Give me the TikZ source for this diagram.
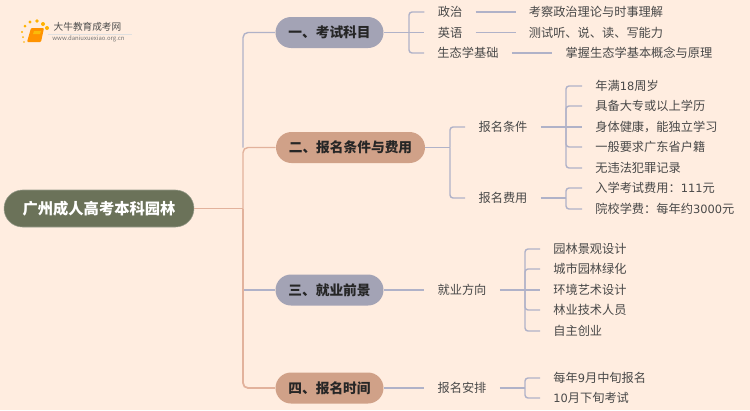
\documentclass[tikz,border=0pt]{standalone}
\usepackage{fontspec}
\setmainfont{Noto Sans CJK SC}
\newfontfamily\digitfont{DejaVu Sans}
\newcommand{\dg}[1]{{\digitfont\fontsize{6.5pt}{9pt}\selectfont #1}}
\definecolor{bgcol}{HTML}{FFEDE0}
\definecolor{rootcol}{HTML}{6B7259}
\definecolor{greycol}{HTML}{A3A3B5}
\definecolor{tancol}{HTML}{D0A188}
\definecolor{greyln}{HTML}{B0B2C8}
\definecolor{tanln}{HTML}{E2B29C}
\definecolor{txtcol}{HTML}{484848}
\tikzset{
  rootnode/.style={fill=rootcol, draw=rootcol!70!white, line width=0.3pt, text=white, rounded corners=0.37cm, minimum width=3.8cm, minimum height=0.74cm, font=\fontsize{8.7pt}{10pt}\selectfont\bfseries, inner sep=0pt},
  branch/.style={rounded corners=0.31cm, minimum height=0.62cm, font=\fontsize{7.8pt}{10pt}\selectfont\bfseries, text=black!85, inner sep=0pt},
  item/.style={text=txtcol, font=\fontsize{6.95pt}{9pt}\selectfont, inner ysep=0pt, inner xsep=0.26cm},
  greyline/.style={draw=greyln, line width=0.8pt, rounded corners=0.06cm},
  tanline/.style={draw=tanln, line width=0.8pt, rounded corners=0.1cm},
}
\begin{document}
\begin{tikzpicture}[x=0.02cm, y=-0.02cm]
  \fill[bgcol] (0,0) rectangle (750,410);
  \useasboundingbox (0,0) rectangle (750,410);
  % logo
  \foreach \a/\b/\r in {24/42/0.8, 23/37/1, 22/32/1.2, 25/26/1.5, 30/22/1.7, 37/21/1.9, 43/24/2, 47/28/2}
    \fill[orange!60!yellow] (\a,\b) circle (\r);
  \fill[orange!85!yellow, rounded corners=0.02cm] (31,28) -- (44,28) -- (41,42) -- (27,42) -- cycle;
  \fill[yellow!50!orange] (34,31) -- (41,31) -- (40,34) -- (33,34) -- cycle;
  \fill[black!12] (48,33.8) rectangle (132,34.2);
  \node[font=\fontsize{5.5pt}{7pt}\selectfont, text=black!70, inner sep=0pt] (logotitle) at (87.5,27) {大牛教育成考网};
  \node[font=\fontsize{3.4pt}{4pt}\selectfont, text=black!55, inner sep=0pt] (logourl) at (88.5,38.5) {www.daniuxuexiao.org.cn};
  % root and branches
  \node[rootnode] (root) at (99,208.5) {广州成人高考本科园林};
  \node[branch, fill=greycol, minimum width=2.16cm] (kemu) at (329.5,32.5) {一、考试科目};
  \node[branch, fill=tancol, minimum width=2.98cm] (tiaojian) at (350.5,147.5) {二、报名条件与费用};
  \node[branch, fill=greycol, minimum width=2.16cm] (qianjing) at (329.5,290) {三、就业前景};
  \node[branch, fill=tancol, minimum width=2.16cm] (shijian) at (329.5,388) {四、报名时间};
  % first level
  \node[item] (zz) at (450,12) {政治};
  \node[item] (yy) at (450,32.5) {英语};
  \node[item] (st) at (468,53) {生态学基础};
  \node[item] (zzd) at (596,12) {考察政治理论与时事理解};
  \node[item] (yyd) at (596,32.5) {测试听、说、读、写能力};
  \node[item] (std) at (639,53) {掌握生态学基本概念与原理};
  \node[item] (bm) at (503,127) {报名条件};
  \node[item] (fy) at (503,198) {报名费用};
  \node[item, anchor=west] (b1) at (582,86) {年满\dg{18}周岁};
  \node[item, anchor=west] (b2) at (582,106) {具备大专或以上学历};
  \node[item, anchor=west] (b3) at (582,127) {身体健康，能独立学习};
  \node[item, anchor=west] (b4) at (582,147) {一般要求广东省户籍};
  \node[item, anchor=west] (b5) at (582,168) {无违法犯罪记录};
  \node[item, anchor=west] (f1) at (582,188) {入学考试费用：\dg{111}元};
  \node[item, anchor=west] (f2) at (582,209) {院校学费：每年约\dg{3000}元};
  \node[item] (jy) at (462,290) {就业方向};
  \node[item, anchor=west] (j1) at (540,249) {园林景观设计};
  \node[item, anchor=west] (j2) at (540,269) {城市园林绿化};
  \node[item, anchor=west] (j3) at (540,290) {环境艺术设计};
  \node[item, anchor=west] (j4) at (540,310) {林业技术人员};
  \node[item, anchor=west] (j5) at (540,331) {自主创业};
  \node[item] (ap) at (462,388) {报名安排};
  \node[item, anchor=west] (a1) at (540,378) {每年\dg{9}月中旬报名};
  \node[item, anchor=west] (a2) at (540,398) {\dg{10}月下旬考试};
  % bars
  \coordinate (trunk) at (243,208.5);
  \coordinate (split) at (243,147.5);
  \coordinate (barkemu) at (409,32.5);
  \coordinate (bartj) at (450,147.5);
  \coordinate (barfy) at (566,198);
  \coordinate (barbm) at (566,127);
  \coordinate (barjy) at (525,290);
  \coordinate (barap) at (525,388);
  % trunk
  \draw[greyline, rounded corners=0.1cm] (split) |- (kemu.west);
  \draw[greyline] (qianjing.west) -- (qianjing.west -| trunk);
  \draw[tanline] (trunk) -- (split) -- (tiaojian.west);
  \draw[tanline, line width=1pt] (trunk) |- (shijian.west);
  \draw[tanline, line width=1pt] (root.east) -- (trunk);
  % branch one
  \draw[greyline] (kemu.east) -- (yy.west);
  \foreach \t in {zz,st}
    \draw[greyline] (barkemu) |- (\t.west);
  \foreach \a/\b in {zz/zzd,yy/yyd,st/std}
    \draw[greyline] (\a.east) -- (\b.west);
  % branch two
  \draw[greyline] (tiaojian.east) -- (bartj);
  \foreach \t in {bm,fy}
    \draw[greyline] (bartj) |- (\t.west);
  \draw[greyline] (bm.east) -- (b3.west);
  \foreach \t in {b1,b2,b4,b5}
    \draw[greyline] (barbm) |- (\t.west);
  \draw[greyline] (fy.east) -- (barfy);
  \foreach \t in {f1,f2}
    \draw[greyline] (barfy) |- (\t.west);
  % branch three
  \draw[greyline] (qianjing.east) -- (jy.west);
  \draw[greyline] (jy.east) -- (j3.west);
  \foreach \t in {j1,j2,j4,j5}
    \draw[greyline] (barjy) |- (\t.west);
  % branch four
  \draw[greyline] (shijian.east) -- (ap.west);
  \draw[greyline] (ap.east) -- (barap);
  \foreach \t in {a1,a2}
    \draw[greyline] (barap) |- (\t.west);
\end{tikzpicture}
\end{document}
